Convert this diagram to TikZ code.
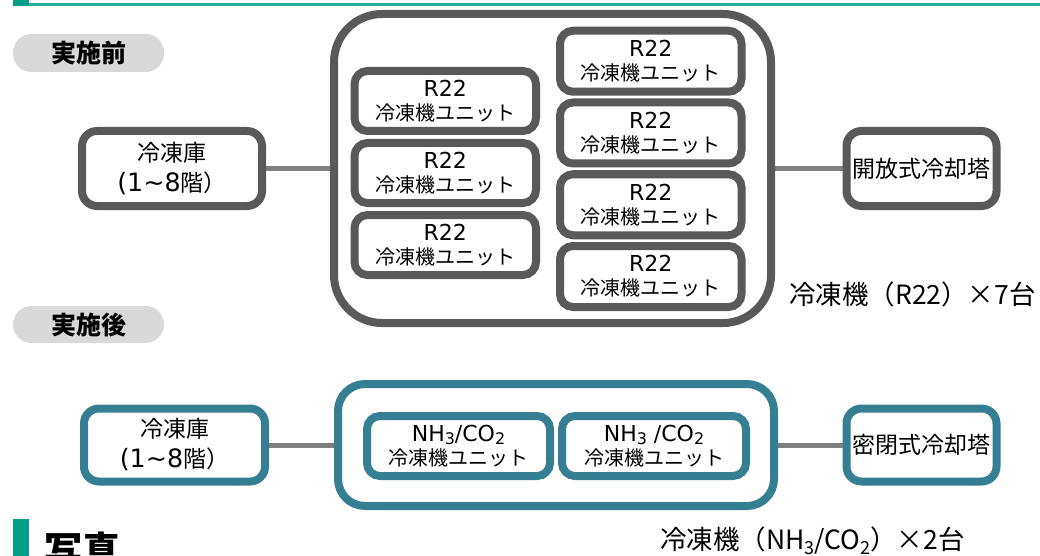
\documentclass[tikz,border=0pt]{standalone}
\usepackage{fontspec}
\setmainfont{Noto Sans CJK JP}
\newfontfamily\latf{DejaVu Sans}[Scale=1.1]
\usetikzlibrary{backgrounds}
\definecolor{boxgray}{HTML}{595959}
\definecolor{linkgray}{HTML}{808080}
\definecolor{tealbox}{RGB}{54,126,146}
\definecolor{pillgray}{HTML}{D9D9D9}
\definecolor{hgreen}{HTML}{009E87}
\newcommand\fs[2]{\fontsize{#1}{#2}\selectfont}
\newcommand\sbsA[1]{\raisebox{-3pt}[0pt][0pt]{\fs{14.5}{14.5}#1}}
\newcommand\sbsB[1]{\raisebox{-5pt}[0pt][0pt]{\fs{18}{18}#1}}
\newcommand\lt[1]{{\latf #1}}
\begin{document}
\begin{tikzpicture}[x=1pt,y=-1pt,
  base/.style={draw, line width=8pt, fill=white, inner sep=0pt, outer sep=0pt, align=center},
  unitg/.style={base, draw=boxgray, rounded corners=13pt, font=\fs{20}{24}},
  unitt/.style={base, draw=tealbox, rounded corners=13pt, font=\fs{20}{24}},
  endg/.style={base, draw=boxgray, rounded corners=15pt, font=\fs{23}{30}},
  endt/.style={base, draw=tealbox, rounded corners=15pt, font=\fs{23}{30}},
  pill/.style={fill=pillgray, rounded corners=18.5pt, minimum width=151pt, inner sep=0pt, font=\fs{25}{25}\bfseries},
  link/.style={draw=linkgray, line width=5pt},
  lab/.style={anchor=west, inner sep=0pt}
]
\useasboundingbox (0,0) rectangle (1040,556);
% top rule
\fill[hgreen] (13,0) rectangle (29,6);
\draw[hgreen!85, line width=2.5pt] (29,4.5) -- (1040,4.5);

% ---------- before ----------
\node[pill, minimum height=38pt] (pre) at (88.5,53) {実施前};
\node[base, draw=boxgray, rounded corners=48pt, minimum width=437pt, minimum height=309pt] (outerA) at (552.5,168.5) {};
\node[unitg, minimum width=181.5pt, minimum height=60pt] (L1) at (445.25,101) {\lt{R22}\\冷凍機ユニット};
\node[unitg, minimum width=181.5pt, minimum height=60pt] (L2) at (445.25,173) {\lt{R22}\\冷凍機ユニット};
\node[unitg, minimum width=181.5pt, minimum height=60pt] (L3) at (445.25,245) {\lt{R22}\\冷凍機ユニット};
\node[unitg, minimum width=181.5pt, minimum height=61pt] (R1) at (650.75,61.25) {\lt{R22}\\冷凍機ユニット};
\node[unitg, minimum width=181.5pt, minimum height=61pt] (R2) at (650.75,133) {\lt{R22}\\冷凍機ユニット};
\node[unitg, minimum width=181.5pt, minimum height=61pt] (R3) at (650.75,204.75) {\lt{R22}\\冷凍機ユニット};
\node[unitg, minimum width=181.5pt, minimum height=61pt] (R4) at (650.75,276.5) {\lt{R22}\\冷凍機ユニット};
\node[endg, minimum width=180pt, minimum height=75pt] (coldA) at (172,168.5) {冷凍庫\\\lt{(1\textasciitilde 8}階）};
\node[endg, minimum width=150pt, minimum height=75pt] (towerA) at (921.5,168.5) {開放式冷却塔};
\node[lab, font=\fs{26.5}{30}] (labA) at (789,294) {冷凍機（R22）×7台};

% ---------- after ----------
\node[pill, minimum height=37pt] (post) at (88.5,324.5) {実施後};
\node[base, draw=tealbox, rounded corners=27pt, minimum width=436pt, minimum height=122pt] (outerB) at (556,445) {};
\node[unitt, minimum width=183pt, minimum height=60pt] (N1) at (458.5,446) {\lt{NH\sbsA{3}/CO\sbsA{2}}\\冷凍機ユニット};
\node[unitt, minimum width=184pt, minimum height=60pt] (N2) at (654,446) {\lt{NH\sbsA{3} /CO\sbsA{2}}\\冷凍機ユニット};
\node[endt, minimum width=181pt, minimum height=73pt] (coldB) at (174.5,445) {冷凍庫\\\lt{(1\textasciitilde 8}階）};
\node[endt, minimum width=150pt, minimum height=73pt] (towerB) at (921.5,445) {密閉式冷却塔};
\node[lab, font=\fs{26.5}{30}] (labB) at (660,541) {冷凍機（NH\sbsB{3}/CO\sbsB{2}）×2台};

% ---------- heading ----------
\fill[hgreen] (13,519) rectangle (29,556);
\node[anchor=base west, inner sep=0pt, font=\fs{38}{38}\bfseries] (photo) at (44,564) {写真};

% ---------- connectors ----------
\begin{scope}[on background layer]
\draw[link] (coldA.east) -- (outerA.west);
\draw[link] (outerA.east) -- (towerA.west);
\draw[link] (coldB.east) -- (outerB.west);
\draw[link] (outerB.east) -- (towerB.west);
\end{scope}
\end{tikzpicture}
\end{document}
